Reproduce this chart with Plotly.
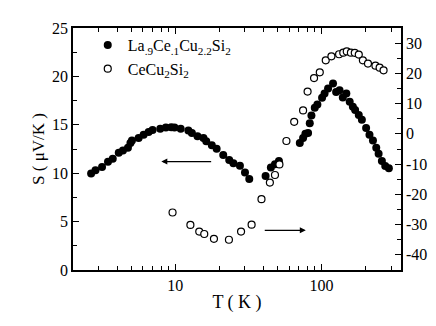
import plotly.graph_objects as go

# La.9Ce.1Cu2.2Si2 (filled, left axis)
t_la = [2.66, 2.85, 3.16, 3.47, 3.74, 4.11, 4.39, 4.75, 4.94, 5.06, 5.62, 6.08, 6.58, 7.00,
        7.90, 8.63, 9.39, 9.89, 10.9, 12.3, 13.0, 14.2, 15.6, 16.3, 17.8, 19.2, 21.3, 23.4,
        25.0, 27.7, 30.0, 32.1,
        41.5, 45.1, 48.1, 51.2,
        71.1, 74.9, 77.7, 81.0, 83.2, 85.4, 90.0, 93.8, 101, 105, 111, 120, 126, 133, 140,
        148, 156, 164, 170, 180, 189, 202, 213, 225, 237, 246, 259, 273, 289]
s_la = [9.97, 10.31, 10.64, 11.19, 11.50, 12.11, 12.35, 12.62, 13.13, 13.37, 13.64, 13.98,
        14.26, 14.46, 14.59, 14.72, 14.75, 14.72, 14.59, 14.42, 14.15, 13.81, 13.64, 13.30,
        12.89, 12.52, 11.87, 11.36, 11.02, 10.77, 10.07, 9.39,
        9.72, 10.58, 10.92, 11.26,
        13.13, 13.64, 14.08, 14.15, 15.17, 15.95, 16.77, 17.11, 17.79, 18.23, 18.74, 19.26,
        18.40, 18.57, 17.83, 18.23, 17.38, 16.87, 16.53, 16.02, 15.51, 14.66, 13.98, 13.37,
        12.62, 12.01, 11.26, 10.74, 10.51]

# CeCu2Si2 (open, right axis)
t_ce = [9.59, 12.7, 14.6, 15.8, 18.4, 23.3, 28.2, 33.3, 38.9, 44.4, 48.1, 51.6, 57.6, 65.1,
        74.9, 80.4, 89.0, 97.4, 107, 117, 132, 141, 149, 159, 169, 180, 192, 208, 234, 250, 266]
s_ce = [-26.0, -30.1, -32.3, -33.1, -34.7, -35.0, -32.3, -30.0, -21.6, -16.1, -13.6, -10.1,
        -2.35, 3.98, 7.74, 13.98, 18.45, 20.34, 24.33, 25.63, 26.32, 26.84, 27.27, 26.84,
        26.78, 26.22, 24.33, 23.25, 22.56, 21.88, 21.0]

x_ticks = [10, 100]
x_minor = [2, 3, 4, 5, 6, 7, 8, 9, 20, 30, 40, 50, 60, 70, 80, 90, 200, 300]
y_ticks = [0, 5, 10, 15, 20, 25]
y2_ticks = [-40, -30, -20, -10, 0, 10, 20, 30]
y2_labels = ["-40", "-30", "-20", "-10", "0", "10", "20", "30"]

font = "Liberation Serif"

fig = go.Figure()
fig.add_trace(go.Scatter(
    x=t_la, y=s_la, mode="markers",
    name="La<sub>.9</sub>Ce<sub>.1</sub>Cu<sub>2.2</sub>Si<sub>2</sub>",
    marker=dict(color="black", size=8, symbol="circle"),
))
fig.add_trace(go.Scatter(
    x=t_ce, y=s_ce, mode="markers", yaxis="y2",
    name="CeCu<sub>2</sub>Si<sub>2</sub>",
    marker=dict(color="white", size=7, symbol="circle",
                line=dict(color="black", width=1.2)),
))

axis_common = dict(
    showline=True, linecolor="black", linewidth=1.5, showgrid=False,
    zeroline=False, ticks="inside", tickcolor="black", ticklen=6, tickwidth=1.2,
    tickfont=dict(family=font, size=16, color="black"),
)

fig.update_layout(
    width=436, height=326,
    margin=dict(l=65, r=43, t=17, b=64),
    plot_bgcolor="white", paper_bgcolor="white",
    font=dict(family=font, color="black"),
    showlegend=True,
    legend=dict(x=0.045, y=1.0, xanchor="left", yanchor="top",
                bgcolor="rgba(0,0,0,0)", font=dict(family=font, size=16, color="black"),
                tracegroupgap=0, itemsizing="trace"),
    xaxis=dict(
        type="log", range=[0.30103, 2.544], mirror="ticks",
        tickvals=x_ticks, ticktext=[str(v) for v in x_ticks],
        minor=dict(tickvals=x_minor, ticks="inside", ticklen=4, tickcolor="black", tickwidth=1.2),
        title=dict(text="T ( K )", font=dict(family=font, size=18, color="black"), standoff=2),
        **axis_common,
    ),
    yaxis=dict(
        range=[0, 25], tickvals=y_ticks,
        minor=dict(dtick=2.5, ticks="inside", ticklen=4, tickcolor="black", tickwidth=1.2),
        title=dict(text="S ( μV/K )", font=dict(family=font, size=17, color="black"), standoff=3),
        **axis_common,
    ),
    yaxis2=dict(
        overlaying="y", side="right", range=[-45, 35],
        tickvals=y2_ticks, ticktext=y2_labels,
        minor=dict(dtick=5, tick0=0, ticks="inside", ticklen=4, tickcolor="black", tickwidth=1.2),
        **axis_common,
    ),
)

# direction arrows
fig.add_annotation(x=0.905, y=11.2, ax=1.256, ay=11.2, xref="x", yref="y",
                   axref="x", ayref="y", text="", showarrow=True,
                   arrowhead=2, arrowsize=1, arrowwidth=1.2, arrowcolor="black")
fig.add_annotation(x=1.893, y=-31.9, ax=1.602, ay=-31.9, xref="x", yref="y2",
                   axref="x", ayref="y2", text="", showarrow=True,
                   arrowhead=2, arrowsize=1, arrowwidth=1.2, arrowcolor="black")

fig.write_html("out.html")
